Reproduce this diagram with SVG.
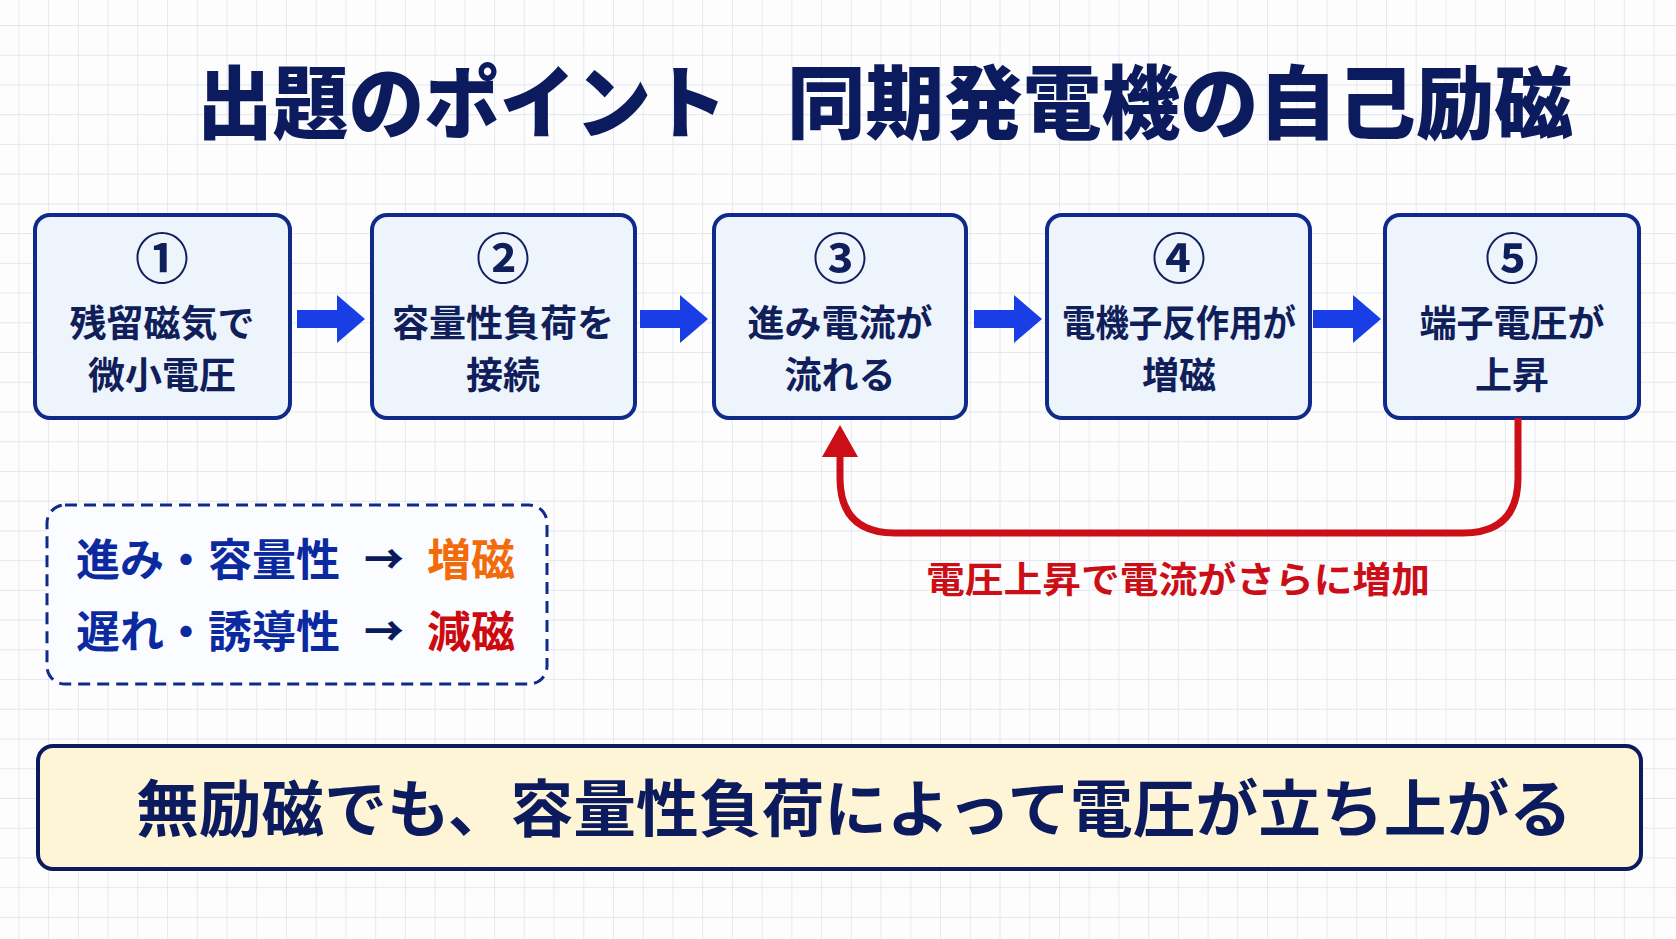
<svg xmlns="http://www.w3.org/2000/svg" width="1676" height="939" viewBox="0 0 1676 939">
  <defs>
    <pattern id="grid" patternUnits="userSpaceOnUse" x="18.4" y="25" width="29.73" height="29.73">
      <path d="M0 0H29.73M0 0V29.73" fill="none" stroke="#e3e7ee" stroke-width="1.8"/>
    </pattern>
    <path id="blockArrow" d="M0,-9 H40 V-24 L68,0 L40,24 V9 H0 Z"/>
    <marker id="redHead" markerUnits="userSpaceOnUse" markerWidth="40" markerHeight="40" refX="2" refY="18" orient="auto">
      <path d="M0,0 L32,18 L0,36 Z" fill="#cc0f17"/>
    </marker>
  </defs>
  <style>
    .jp { font-family: "Noto Sans CJK JP", "Noto Sans CJK SC", sans-serif; font-weight: 700; }
    .title { font-size: 80px; fill: #0b1b5e; font-weight: 900; }
    .box { fill: #eef4fc; stroke: #0f2a8a; stroke-width: 4; }
    .num { font-size: 54px; fill: #0f1f5c; text-anchor: middle; }
    .lbl { font-size: 37px; fill: #101e5a; text-anchor: middle; }
    .flow { fill: #1a3ee6; }
    .leg { font-size: 44px; fill: #0b2aa0; }
    .arr { font-size: 40px; fill: #0a1a5c; font-weight: 900; }
  </style>
  <rect width="1676" height="939" fill="#fdfdfe"/>
  <rect width="1676" height="939" fill="url(#grid)"/>

  <g id="title" class="jp">
    <text class="jp title" x="197" y="132" textLength="530" lengthAdjust="spacingAndGlyphs">出題のポイント</text>
    <text class="jp title" x="787" y="132" textLength="786" lengthAdjust="spacingAndGlyphs">同期発電機の自己励磁</text>
  </g>

  <g id="node1">
    <rect class="box" x="35" y="215" width="255" height="203" rx="15"/>
    <text class="jp num" x="162" y="279">①</text>
    <text class="jp lbl" x="162" y="337">残留磁気で</text>
    <text class="jp lbl" x="162" y="389">微小電圧</text>
  </g>
  <g id="node2">
    <rect class="box" x="372" y="215" width="263" height="203" rx="15"/>
    <text class="jp num" x="503" y="279">②</text>
    <text class="jp lbl" x="503" y="337">容量性負荷を</text>
    <text class="jp lbl" x="503" y="389">接続</text>
  </g>
  <g id="node3">
    <rect class="box" x="714" y="215" width="252" height="203" rx="15"/>
    <text class="jp num" x="840" y="279">③</text>
    <text class="jp lbl" x="840" y="337">進み電流が</text>
    <text class="jp lbl" x="840" y="389">流れる</text>
  </g>
  <g id="node4">
    <rect class="box" x="1047" y="215" width="263" height="203" rx="15"/>
    <text class="jp num" x="1179" y="279">④</text>
    <text class="jp lbl" x="1179" y="337" textLength="234" lengthAdjust="spacingAndGlyphs">電機子反作用が</text>
    <text class="jp lbl" x="1179" y="389">増磁</text>
  </g>
  <g id="node5">
    <rect class="box" x="1385" y="215" width="254" height="203" rx="15"/>
    <text class="jp num" x="1512" y="279">⑤</text>
    <text class="jp lbl" x="1512" y="337">端子電圧が</text>
    <text class="jp lbl" x="1512" y="389">上昇</text>
  </g>

  <g id="connectors">
    <use href="#blockArrow" class="flow" transform="translate(297,319)"/>
    <use href="#blockArrow" class="flow" transform="translate(640,319)"/>
    <use href="#blockArrow" class="flow" transform="translate(974,319)"/>
    <use href="#blockArrow" class="flow" transform="translate(1313,319)"/>
    <path d="M1518,418 V478 Q1518,533 1463,533 H895 Q840,533 840,478 V455" fill="none" stroke="#cc0f17" stroke-width="7" marker-end="url(#redHead)"/>
    <text class="jp" x="1178" y="593" font-size="36" fill="#cc0f17" text-anchor="middle" textLength="504" lengthAdjust="spacingAndGlyphs">電圧上昇で電流がさらに増加</text>
  </g>

  <g id="legend">
    <rect x="47" y="505" width="500" height="179" rx="18" fill="#fbfcff" stroke="#0f2a8a" stroke-width="3" stroke-dasharray="12 7"/>
    <text class="jp leg" x="76" y="576">進み・容量性</text>
    <text class="jp arr" x="364" y="574">→</text>
    <text class="jp" x="427" y="576" font-size="44" fill="#f26b0a">増磁</text>
    <text class="jp leg" x="76" y="648">遅れ・誘導性</text>
    <text class="jp arr" x="364" y="646">→</text>
    <text class="jp" x="427" y="648" font-size="44" fill="#cc0a10">減磁</text>
  </g>

  <g id="summary">
    <rect x="38" y="746" width="1603" height="123" rx="15" fill="#fdf5d6" stroke="#0b1b5e" stroke-width="4"/>
    <text class="jp" x="854" y="832" font-size="62" fill="#0b1b5e" text-anchor="middle" textLength="1436" lengthAdjust="spacingAndGlyphs">無励磁でも、容量性負荷によって電圧が立ち上がる</text>
  </g>
</svg>
